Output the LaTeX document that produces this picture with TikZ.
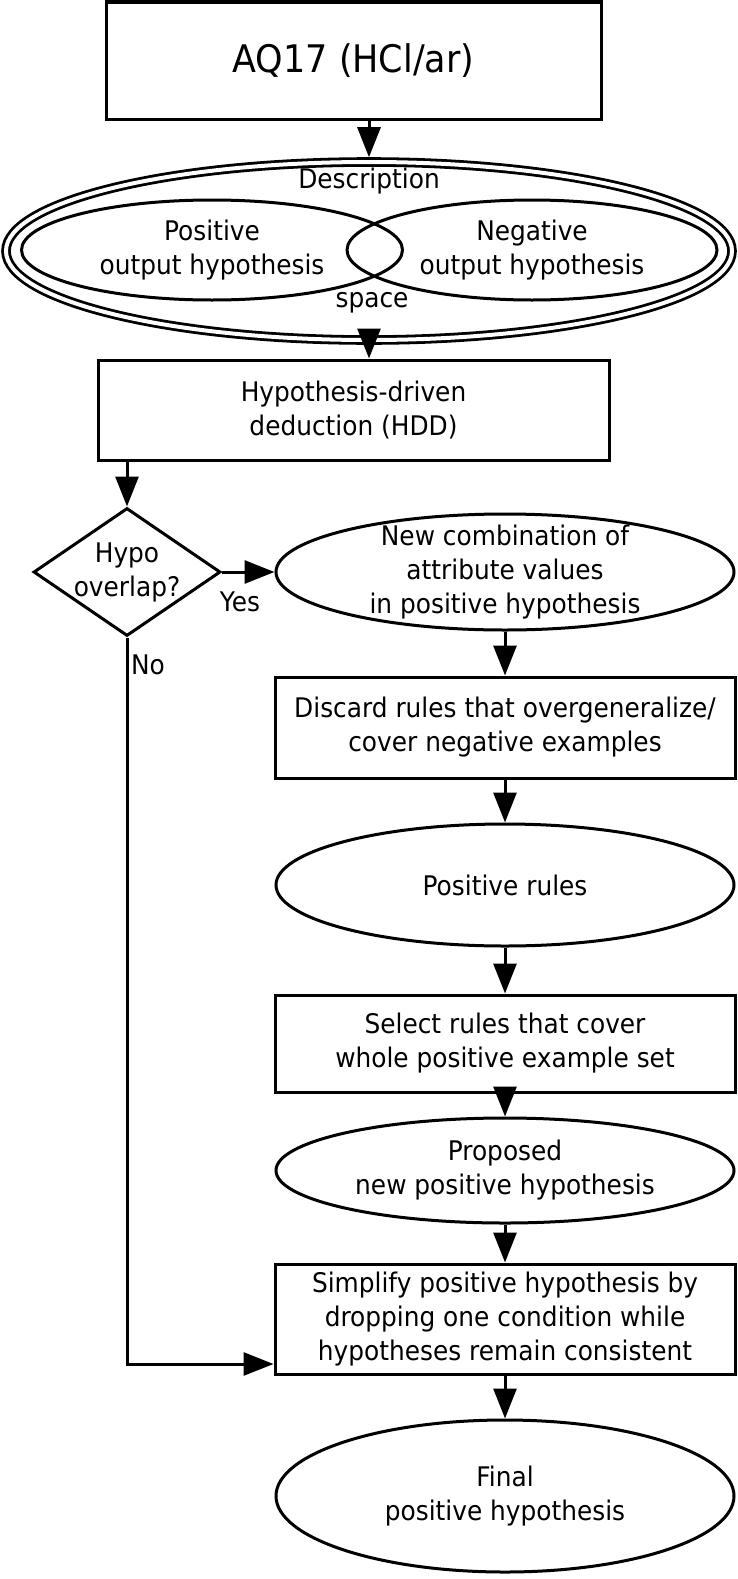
\documentclass[tikz,border=0pt]{standalone}
\usepackage{fontspec}
\setmainfont[FakeStretch=0.92]{DejaVu Sans}
\usetikzlibrary{positioning,shapes.geometric,arrows.meta}

\begin{document}
\begin{tikzpicture}[x=0.5pt,y=-0.5pt,
    font=\fontsize{13.5}{17}\selectfont,
    boxnode/.style={rectangle, draw=black, line width=1.5pt, align=center, minimum width=230pt},
    ellnode/.style={ellipse, draw=black, line width=1.5pt, align=center, inner sep=-12pt, minimum width=229pt},
    decnode/.style={diamond, draw=black, line width=1.5pt, align=center, inner sep=-1.5pt, aspect=1.45},
    arr/.style={-{Triangle[length=15pt,width=11.5pt]}, line width=1.5pt},]
    \useasboundingbox (0,0) rectangle (738,1579);
    % nodes
    \node[boxnode, minimum width=247.5pt, minimum height=58.5pt, font=\fontsize{19}{23}\selectfont] (aq) at (353.5,60.5) {AQ17 (HCl/ar)};
    \node[ellnode, double, double distance=2pt, line width=1.4pt, outer sep=2.4pt, minimum width=363pt, minimum height=89pt] (dspace) at (369,251) {};
    \node[ellnode, minimum width=190.5pt, minimum height=50pt] (posout) at (212,250) {Positive\\output hypothesis};
    \node[ellnode, minimum width=185pt, minimum height=50pt] (negout) at (532,250) {Negative\\output hypothesis};
    \node (desclbl) at (369,181) {Description};
    \node (spacelbl) at (372,303) {space};
    \node[boxnode, minimum width=255.5pt, minimum height=50pt] (hdd) at (353.5,410) {Hypothesis-driven\\deduction (HDD)};
    \node[decnode, minimum width=93.5pt, minimum height=64pt] (overlap) at (127,572) {Hypo\\overlap?};
    \node[ellnode, minimum height=58pt] (combo) at (505,572) {New combination of\\attribute values\\in positive hypothesis};
    \node[boxnode, minimum height=50.5pt] (discard) [below=22pt of combo] {Discard rules that overgeneralize/\\cover negative examples};
    \node[ellnode, minimum height=61pt] (posrules) [below=21.5pt of discard] {Positive rules};
    \node[boxnode, minimum height=48.5pt] (select) [below=23pt of posrules] {Select rules that cover\\whole positive example set};
    \node[ellnode, minimum height=52.5pt] (proposed) [below=11.5pt of select] {Proposed\\new positive hypothesis};
    \node[boxnode, minimum height=55pt] (simplify) [below=19pt of proposed] {Simplify positive hypothesis by\\dropping one condition while\\hypotheses remain consistent};
    \node[ellnode, minimum height=76pt] (final) [below=21.5pt of simplify] {Final\\positive hypothesis};
    \node (yes) at (240,602) {Yes};
    \node (no) at (148,665) {No};
    % lines
    \draw[arr] (aq.south -| dspace.north) -- (dspace.north);
    \draw[arr] (dspace.south) -- (dspace.south |- hdd.north);
    \draw[arr] (hdd.south -| overlap.north) -- (overlap.north);
    \draw[arr] (overlap.east) -- (combo.west);
    \draw[arr] (combo) -- (discard);
    \draw[arr] (discard) -- (posrules);
    \draw[arr] (posrules) -- (select);
    \draw[arr] (select) -- (proposed);
    \draw[arr] (proposed) -- (simplify);
    \draw[arr] (simplify) -- (final);
    \draw[arr] (overlap.south) |- ([yshift=-22.5pt]simplify.west);
\end{tikzpicture}
\end{document}
